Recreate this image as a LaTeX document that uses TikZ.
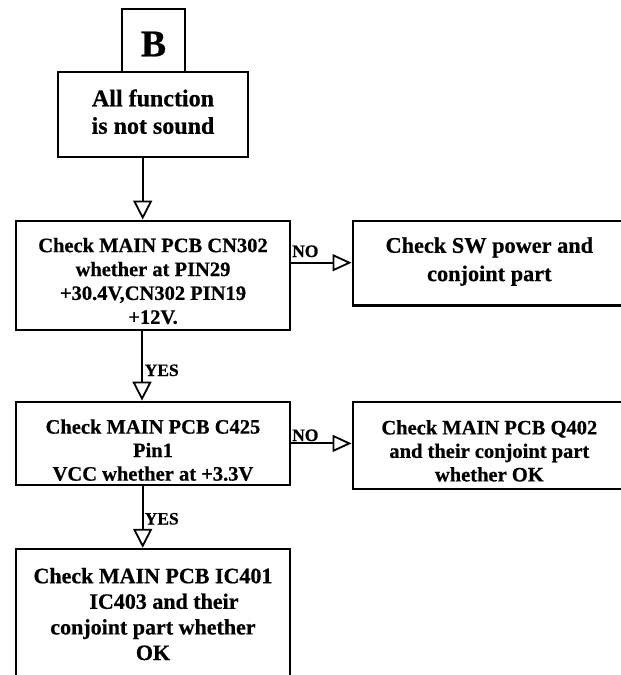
\documentclass[tikz,border=0pt]{standalone}
\usepackage{fontspec}
\setmainfont{Liberation Serif}[BoldFeatures={FakeBold=0.6}]
\usetikzlibrary{arrows.meta}
\newcommand\boxtext[2]{\raisebox{#1}[\height][\depth]{\begin{tabular}{@{}c@{}}#2\end{tabular}}}
\begin{document}
\begin{tikzpicture}[x=1pt,y=-1pt,
  box/.style={draw, line width=2.3pt, inner sep=0pt, anchor=center},
  arr/.style={line width=2pt, -{Triangle[length=19pt,width=19pt,fill=white,line width=1.8pt]}},
  harr/.style={line width=2pt, -{Triangle[length=19pt,width=17pt,fill=white,line width=1.8pt]}},
  lbl/.style={inner sep=0pt, font=\fontsize{17.5}{20}\selectfont\bfseries},
  ]
\useasboundingbox (0,0) rectangle (621,675);
\clip (0,0) rectangle (621,675);

\node[box, minimum width=63pt, minimum height=63pt, font=\fontsize{37.8}{40}\selectfont\bfseries] (nB) at (153.5,40.5) {\raisebox{-3.5pt}[\height][\depth]{B}};

\node[box, minimum width=190pt, minimum height=85pt, font=\fontsize{24}{27.5}\selectfont\bfseries] (nA) at (153,114.5) {\boxtext{0pt}{All function\\is not sound}};

\node[box, minimum width=274pt, minimum height=109pt, font=\fontsize{20.5}{23.9}\selectfont\bfseries] (nC1) at (153,275.2) {\boxtext{-8pt}{Check MAIN PCB CN302\\whether at PIN29\\+30.4V,CN302 PIN19\\+12V.}};

\node[box, minimum width=273.3pt, minimum height=84.5pt, font=\fontsize{22.3}{28.3}\selectfont\bfseries] (nS) at (489.35,263.25) {\boxtext{2pt}{Check SW power and\\conjoint part}};

\node[box, minimum width=274pt, minimum height=83.3pt, font=\fontsize{20.5}{23.5}\selectfont\bfseries] (nC2) at (153,443.4) {\boxtext{-9pt}{Check MAIN PCB C425\\Pin1\\VCC whether at +3.3V}};

\node[box, minimum width=273.3pt, minimum height=87pt, font=\fontsize{20.5}{23.5}\selectfont\bfseries] (nQ) at (489.35,445.2) {\boxtext{-8pt}{Check MAIN PCB Q402\\and their conjoint part\\whether OK}};

\node[box, minimum width=274pt, minimum height=128pt, font=\fontsize{22}{25.6}\selectfont\bfseries] (nF) at (153,613) {\boxtext{-3.5pt}{Check MAIN PCB IC401\\\hspace*{22pt}IC403 and their\\conjoint part whether\\OK}};

\draw[arr] ([xshift=-10.3pt]nA.south) -- ([xshift=-10.3pt]nC1.north);
\draw[arr] ([xshift=-11pt]nC1.south) -- ([xshift=-11pt]nC2.north);
\draw[arr] ([xshift=-10.3pt]nC2.south) -- ([xshift=-10.3pt]nF.north);

\coordinate (h1) at ([yshift=12.5pt]nC1.east);
\draw[harr] (h1) -- (h1 -| nS.west);
\draw[harr] (nC2.east) -- (nC2.east -| nQ.west);

\node[lbl, anchor=base west] (no1) at (292,257) {NO};
\node[lbl, anchor=base west] (no2) at (292,441) {NO};
\node[lbl, anchor=base west] (yes1) at (144.5,376) {YES};
\node[lbl, anchor=base west] (yes2) at (144.5,524.5) {YES};
\end{tikzpicture}
\end{document}
